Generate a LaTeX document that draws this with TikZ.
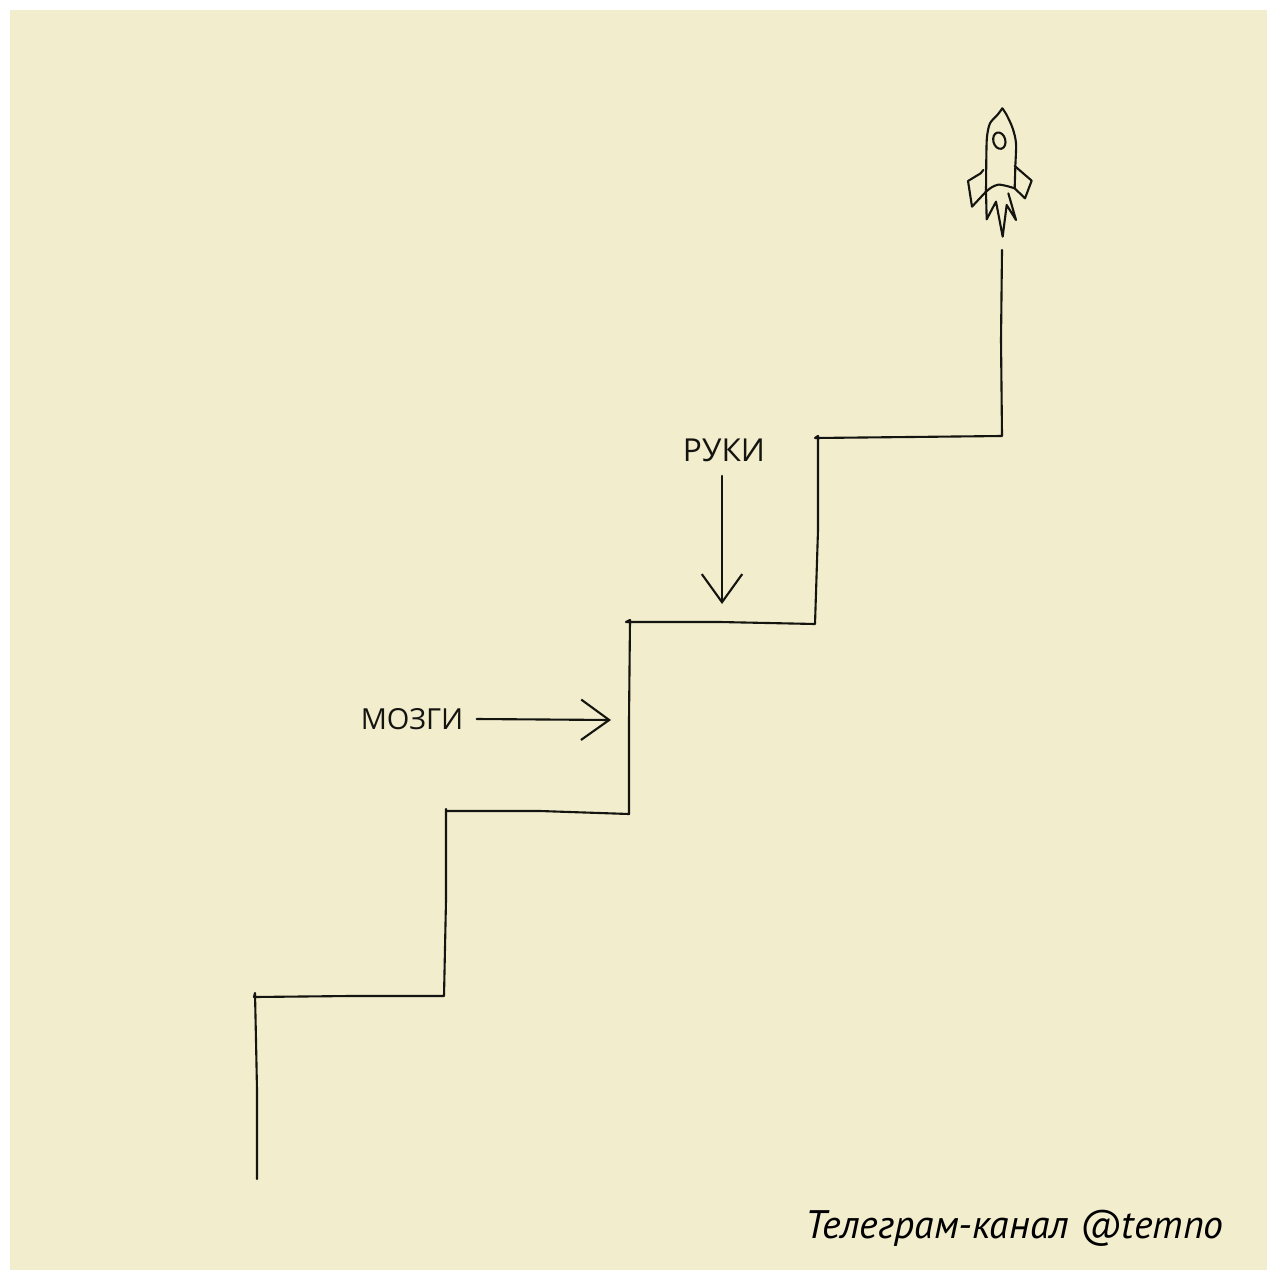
\documentclass[tikz,border=0pt]{standalone}
\usepackage{fontspec}
\setmainfont{PT Sans}
\newfontfamily\handfont{Open Sans}
\usetikzlibrary{arrows.meta}
\definecolor{paper}{HTML}{F2EDCC}
\definecolor{ink}{HTML}{141410}
\tikzset{
  pen/.style={draw=ink,line width=1.2pt,line join=round,line cap=round},
  hand/.style={text=ink,inner sep=0pt,font=\handfont\fontsize{#1}{#1}\selectfont},
  penarrow/.style={pen,-{Straight Barb[length=16pt,width=23pt,line width=1.2pt]}}
}
\begin{document}
\begin{tikzpicture}[x=0.02cm,y=-0.02cm]
            %riquadro
            \useasboundingbox (0,0) rectangle (1267,1270);
            \fill[paper] (10,10) rectangle (1267,1270);
            %scala
            \draw[pen] (257,1179)--(257,1090)--(256,1040)--(255,993)
                 --(254,997)--(350,996)--(444,996)
                 --(446,900)--(446,809)
                 --(446,811)--(540,811)--(629,814)
                 --(629,720)--(630,620)
                 --(626,622)--(720,622)--(815,624)
                 --(818,530)--(818,436)
                 --(815,438)--(910,437)--(1002,436)
                 --(1001,340)--(1002,250);
            %etichette
            \node[hand=18] (ruki) at (724,450) {РУКИ};
            \node[hand=16.5] (mozgi) at (412,719) {МОЗГИ};
            %frecce
            \coordinate (rukiend) at (722,604);
            \coordinate (mozgiend) at (611,720);
            \draw[penarrow] (ruki.south)++(-2,14)--(rukiend);
            \draw[penarrow] (mozgi.east)++(13,0)--(mozgiend);
            %razzo
            \begin{scope}[shift={(940,90)},scale=0.3333]
            \draw[pen] plot[smooth,tension=0.5] coordinates {(187,55) (172,75) (150,100) (141,140) (139,200) (138,305)};
            \draw[pen] plot[smooth,tension=0.5] coordinates {(187,55) (200,75) (218,115) (228,160) (226,230) (224,295)};
            \draw[pen] plot[smooth,tension=0.5] coordinates {(138,305) (155,292) (175,284) (200,288) (224,295)};
            \draw[pen,rotate around={15:(178,152)}] (178,152) ellipse (18 and 25);
            \draw[pen] (130,240)--(122,250)--(84,273)--(96,350)--(138,305);
            \draw[pen] (224,228)--(275,272)--(255,325)--(224,295);
            \draw[pen] (138,305)--(140,388)--(168,335)--(188,440)--(200,345)--(228,390)--(205,310);
            \end{scope}
            %firma
            \node[anchor=base east,inner sep=0pt,text=black,font=\itshape\fontsize{22.65}{22.65}\selectfont] (firma) at (1224,1238) {Телеграм-канал @temno};
    \end{tikzpicture}
\end{document}
